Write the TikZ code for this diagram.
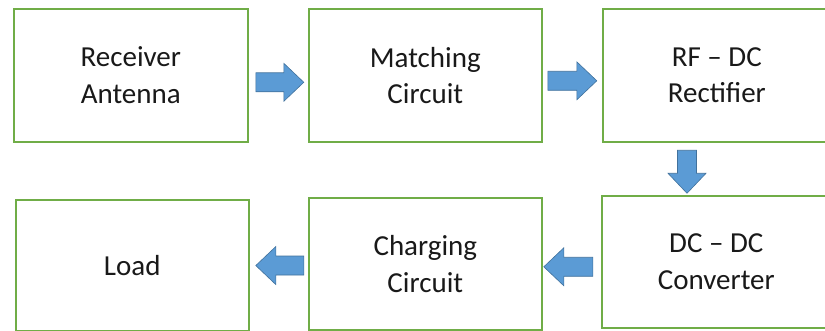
\documentclass[tikz,border=0pt]{standalone}
\usepackage{fontspec}
\setmainfont{Carlito}
\usetikzlibrary{calc}
\definecolor{boxgreen}{HTML}{70AD47}
\definecolor{arrowfill}{HTML}{5B9BD5}
\definecolor{arrowline}{HTML}{41719C}
\tikzset{
  block/.style={draw=boxgreen, line width=1.6pt, fill=white, inner sep=0pt,
    align=center, text=black!90, font=\fontsize{29}{36.5}\selectfont},
  fatarrow/.style={fill=arrowfill, draw=arrowline, line width=0.6pt, line join=miter},
  % block arrow pointing along +x, centred on the pic origin
  pics/blockarrow/.style={code={
    \path[fatarrow] (-#1/2,-9.5) -- (#1/2-20,-9.5) -- (#1/2-20,-19) -- (#1/2,0)
      -- (#1/2-20,19) -- (#1/2-20,9.5) -- (-#1/2,9.5) -- cycle;
  }}
}
\begin{document}
\begin{tikzpicture}[x=1pt,y=-1pt]
\useasboundingbox (0,0) rectangle (825,331);

% top row
\node[block, minimum width=234pt, minimum height=133pt, anchor=north west] (rx) at (13,8) {Receiver\\Antenna};
\node[block, minimum width=233pt, minimum height=133pt, anchor=north west] (match) at (308,8) {Matching\\Circuit};
\node[block, minimum width=228pt, minimum height=133pt, anchor=north west] (rect) at (602,8) {RF -- DC\\Rectifier};

% bottom row
\node[block, minimum width=233pt, minimum height=131pt, anchor=north west] (load) at (15,199) {Load};
\node[block, minimum width=233pt, minimum height=132pt, anchor=north west] (charge) at (308,197) {Charging\\Circuit};
\node[block, minimum width=229pt, minimum height=132pt, anchor=north west] (conv) at (601,195) {DC -- DC\\Converter};

% block arrows between the stages
\coordinate (a1) at ($($(rx.east)!0.5!(match.west)$)+(1.5,7)$);
\coordinate (a2) at ($($(match.east)!0.5!(rect.west)$)+(0,5.5)$);
\coordinate (a3) at ($(rect.south west)!0.5!(conv.north west)+(85.5,3)$);
\coordinate (a4) at ($($(conv.west)!0.5!(charge.east)$)+(-3.5,4)$);
\coordinate (a5) at ($($(charge.west)!0.5!(load.east)$)+(1,1)$);

\pic at (a1) {blockarrow=48};
\pic at (a2) {blockarrow=49};
\pic[rotate=-90] at (a3) {blockarrow=43};
\pic[rotate=180] at (a4) {blockarrow=49};
\pic[rotate=180] at (a5) {blockarrow=48};
\end{tikzpicture}
\end{document}
